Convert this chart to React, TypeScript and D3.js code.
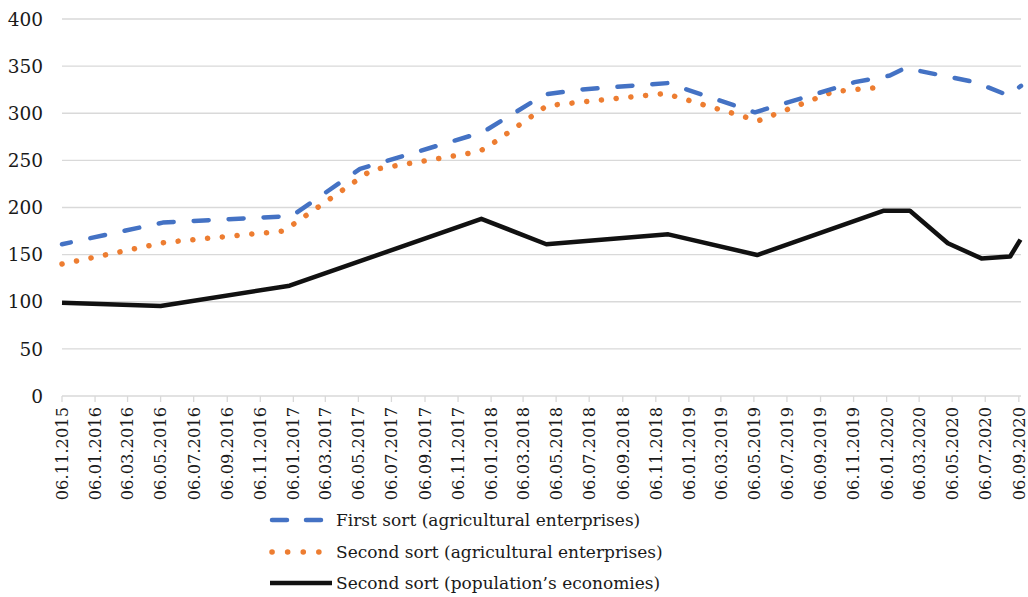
import React, { useEffect, useRef } from 'react';
import * as d3 from 'd3';

const firstSortDates = [
  '2015-11-06', '2016-05-10', '2017-01-03', '2017-05-09', '2017-12-22', '2018-04-15',
  '2018-06-18', '2018-11-28', '2019-05-08', '2019-11-08', '2020-01-12', '2020-02-09',
  '2020-06-17', '2020-08-17', '2020-09-10',
];
const firstSortValues = [161, 184, 191, 241, 280, 320, 325, 332, 301, 333, 340, 348, 333, 319, 329];

const secondSortDates = [
  '2015-11-06', '2016-05-14', '2016-12-19', '2017-05-31', '2017-12-01', '2017-12-25',
  '2018-04-19', '2018-11-23', '2019-05-14', '2019-09-30', '2019-12-24',
];
const secondSortValues = [140, 163, 175, 240, 258, 262, 308, 321, 292, 323, 327.5];

const populationDates = [
  '2015-11-06', '2016-05-06', '2016-12-30', '2017-12-19', '2018-04-18', '2018-11-29',
  '2019-05-12', '2020-01-01', '2020-02-18', '2020-04-28', '2020-06-29', '2020-08-21',
  '2020-09-09',
];
const populationValues = [99, 95.5, 117, 188, 161, 171.5, 149.6, 196.6, 196.6, 162, 146, 148, 166];

const seriesNames = [
  'First sort (agricultural enterprises)',
  'Second sort (agricultural enterprises)',
  'Second sort (population’s economies)',
];

const yTicks = [0, 50, 100, 150, 200, 250, 300, 350, 400];
const axisStart = '2015-11-06';
const axisEnd = '2020-09-10';

const parse = d3.timeParse('%Y-%m-%d');
const fmt = d3.timeFormat('%d.%m.%Y');

export default function App() {
  const ref = useRef<SVGSVGElement>(null);

  useEffect(() => {
    const svg = d3.select(ref.current);
    svg.selectAll('*').remove();

    const width = 1028;
    const height = 597;
    const margin = { top: 19, right: 7, bottom: 201, left: 62 };
    const font = '"DejaVu Serif", serif';
    const textColor = '#1a1a1a';

    const x = d3
      .scaleTime()
      .domain([parse(axisStart)!, parse(axisEnd)!])
      .range([margin.left, width - margin.right]);

    const y = d3
      .scaleLinear()
      .domain([0, 400])
      .range([height - margin.bottom, margin.top]);

    // gridlines
    svg
      .append('g')
      .selectAll('line')
      .data(yTicks)
      .join('line')
      .attr('x1', margin.left)
      .attr('x2', width - margin.right)
      .attr('y1', (d) => y(d))
      .attr('y2', (d) => y(d))
      .attr('stroke', '#d9d9d9')
      .attr('stroke-width', 1.3);

    // y labels
    svg
      .append('g')
      .selectAll('text')
      .data(yTicks)
      .join('text')
      .attr('x', 43)
      .attr('y', (d) => y(d))
      .attr('dy', '0.36em')
      .attr('text-anchor', 'end')
      .style('font-family', font)
      .attr('font-size', 18.5)
      .attr('fill', textColor)
      .text((d) => d);

    // x ticks, every 2 months on the 6th
    const xTicks = d3.timeMonth
      .every(2)!
      .range(parse('2015-11-01')!, parse('2020-10-01')!)
      .map((d) => new Date(d.getFullYear(), d.getMonth(), 6));

    const xAxis = svg.append('g');
    xAxis
      .selectAll('line')
      .data(xTicks)
      .join('line')
      .attr('x1', (d) => x(d))
      .attr('x2', (d) => x(d))
      .attr('y1', y(0))
      .attr('y2', y(0) + 6)
      .attr('stroke', '#d9d9d9')
      .attr('stroke-width', 1.3);

    xAxis
      .selectAll('text')
      .data(xTicks)
      .join('text')
      .attr('transform', (d) => `translate(${x(d)},${y(0) + 11}) rotate(-90)`)
      .attr('dy', '0.36em')
      .attr('text-anchor', 'end')
      .style('font-family', font)
      .attr('font-size', 16.3)
      .attr('fill', textColor)
      .text((d) => fmt(d));

    const line = d3
      .line<[Date, number]>()
      .x((d) => x(d[0]))
      .y((d) => y(d[1]));

    const zip = (dates: string[], values: number[]) =>
      dates.map((d, i) => [parse(d)!, values[i]] as [Date, number]);

    const series = [
      { data: zip(firstSortDates, firstSortValues), color: '#4472C4', width: 4.5, dash: '15 20', offset: 6 },
      { data: zip(secondSortDates, secondSortValues), color: '#ED7D31', width: 5.5, dash: '0.1 14.7', offset: 0 },
      { data: zip(populationDates, populationValues), color: '#111111', width: 4.5, dash: null, offset: 0 },
    ];

    series
      .slice()
      .reverse()
      .forEach((s) => {
        svg
          .append('path')
          .datum(s.data)
          .attr('fill', 'none')
          .attr('stroke', s.color)
          .attr('stroke-width', s.width)
          .attr('stroke-linecap', s.dash ? 'round' : 'butt')
          .attr('stroke-linejoin', 'round')
          .attr('stroke-dasharray', s.dash)
          .attr('stroke-dashoffset', s.offset)
          .attr('d', line);
      });

    // legend
    const legend = svg.append('g');
    const legendY = [520, 552, 583];
    series.forEach((s, i) => {
      legend
        .append('line')
        .attr('x1', s.dash ? 272 : 270)
        .attr('x2', s.dash ? (i === 0 ? 326 : 320) : 332)
        .attr('y1', legendY[i])
        .attr('y2', legendY[i])
        .attr('stroke', s.color)
        .attr('stroke-width', s.width)
        .attr('stroke-linecap', s.dash ? 'round' : 'butt')
        .attr('stroke-dasharray', i === 0 ? '15 19' : i === 1 ? '0.1 15.5' : null);
      legend
        .append('text')
        .attr('x', 336)
        .attr('y', legendY[i])
        .attr('dy', '0.36em')
        .style('font-family', font)
        .attr('font-size', 17)
        .attr('fill', textColor)
        .text(seriesNames[i]);
    });
  }, []);

  return (
    <svg
      ref={ref}
      width={1028}
      height={597}
      style={{ position: 'absolute', left: 0, top: 0, background: '#fff' }}
    />
  );
}
